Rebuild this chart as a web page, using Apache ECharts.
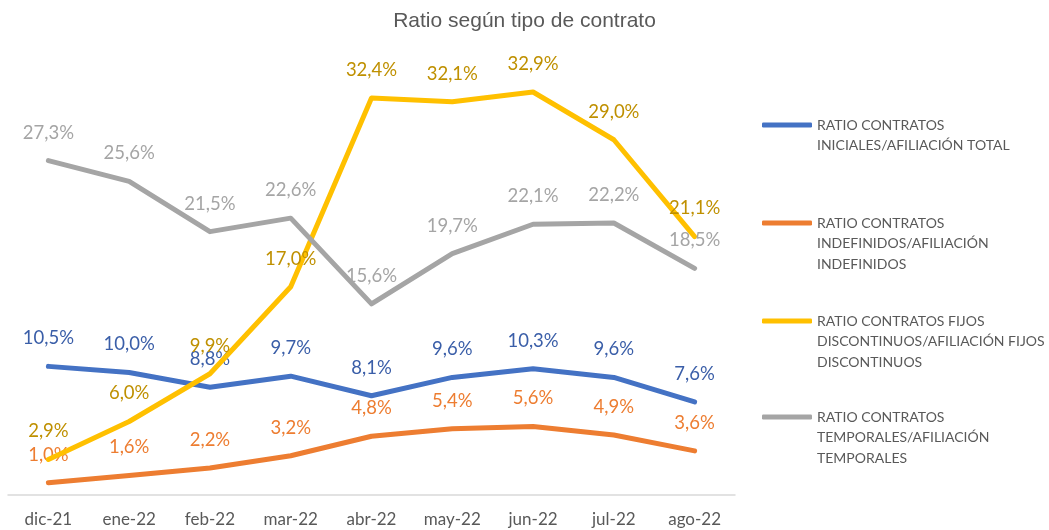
<!DOCTYPE html>
<html>
<head>
<meta charset="utf-8">
<script src="https://cdn.jsdelivr.net/npm/echarts@6/dist/echarts.min.js"></script>
<style>
  html, body { margin: 0; padding: 0; background: #fff; }
  #chart { width: 1049px; height: 530px; }
</style>
</head>
<body>
<div id="chart"></div>
<script>
const categories = ['dic-21', 'ene-22', 'feb-22', 'mar-22', 'abr-22', 'may-22', 'jun-22', 'jul-22', 'ago-22']
const iniciales = [10.5, 10.0, 8.8, 9.7, 8.1, 9.6, 10.3, 9.6, 7.6]
const indefinidos = [1.0, 1.6, 2.2, 3.2, 4.8, 5.4, 5.6, 4.9, 3.6]
const fijosDiscontinuos = [2.9, 6.0, 9.9, 17.0, 32.4, 32.1, 32.9, 29.0, 21.1]
const temporales = [27.3, 25.6, 21.5, 22.6, 15.6, 19.7, 22.1, 22.2, 18.5]
const seriesNames = [
  'RATIO CONTRATOS\nINICIALES/AFILIACIÓN TOTAL',
  'RATIO CONTRATOS\nINDEFINIDOS/AFILIACIÓN\nINDEFINIDOS',
  'RATIO CONTRATOS FIJOS\nDISCONTINUOS/AFILIACIÓN FIJOS\nDISCONTINUOS',
  'RATIO CONTRATOS\nTEMPORALES/AFILIACIÓN\nTEMPORALES'
]

const lineColors = ['#4472c4', '#ed7d31', '#ffc000', '#a5a5a5']
const labelColors = ['#3a5ea8', '#ed7d31', '#bf9000', '#a5a5a5']
// y of the first text line of each legend entry
const legendFirstLine = [125, 223, 321, 417]
const LH = 20.5

let chart = echarts.init(document.getElementById('chart'))

function makeSeries (idx, data) {
  return {
    name: seriesNames[idx],
    type: 'line',
    data: data,
    symbol: 'circle',
    symbolSize: 1,
    showSymbol: true,
    itemStyle: { color: lineColors[idx] },
    color: lineColors[idx],
    lineStyle: { color: lineColors[idx], width: 5, cap: 'round', join: 'round' },
    label: {
      show: true,
      position: 'top',
      distance: 18,
      color: labelColors[idx],
      fontFamily: 'Lato',
      fontSize: 18.5,
      formatter: p => Number(p.value).toFixed(1).replace('.', ',') + '%'
    },
    z: 2 + idx
  }
}

// icon sits on the centre of the text block, so pad with empty lines above
let legends = seriesNames.map((name, i) => {
  let lines = name.split('\n').length
  return {
    data: [name],
    orient: 'vertical',
    left: 762,
    top: legendFirstLine[i] - (2 * lines - 1) * LH / 2,
    padding: 0,
    icon: 'roundRect',
    itemWidth: 50,
    itemHeight: 5,
    selectedMode: false,
    formatter: n => '\n'.repeat(lines - 1) + n,
    textStyle: {
      color: '#595959',
      fontFamily: 'Lato',
      fontSize: 14,
      lineHeight: LH
    }
  }
})

let option = {
  animation: false,
  title: {
    text: 'Ratio según tipo de contrato',
    left: 'center',
    top: 6,
    textStyle: {
      color: '#595959',
      fontFamily: 'Liberation Sans',
      fontSize: 21,
      fontWeight: 'normal'
    }
  },
  legend: legends,
  grid: { left: 8, right: 314, top: 5, bottom: 35 },
  xAxis: {
    type: 'category',
    data: categories,
    boundaryGap: true,
    axisLine: { lineStyle: { color: '#d9d9d9', width: 1.5 } },
    axisTick: { show: false },
    axisLabel: {
      color: '#595959',
      fontFamily: 'Lato',
      fontSize: 17,
      margin: 16
    }
  },
  yAxis: {
    type: 'value',
    min: 0,
    max: 40,
    show: false
  },
  series: [
    makeSeries(0, iniciales),
    makeSeries(1, indefinidos),
    makeSeries(2, fijosDiscontinuos),
    makeSeries(3, temporales)
  ]
}

chart.setOption(option)
</script>
</body>
</html>
